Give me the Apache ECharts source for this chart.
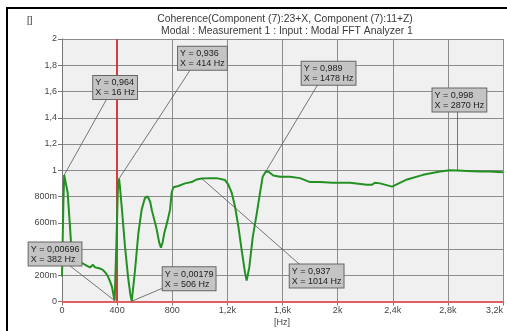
<!DOCTYPE html>
<html><head><meta charset="utf-8">
<script src="https://cdn.jsdelivr.net/npm/echarts@6/dist/echarts.min.js"></script>
<style>html,body{margin:0;padding:0;background:#fff}#c{width:507px;height:331px}</style>
</head><body><div id="c"></div>
<script>
// ---- data ----
const freqHz = [0,4,10,16,22,41,58,70,80,100,131,150,167,185,203,215,225,240,261,280,297,315,334,350,363,377,382,
  395,405,414,420,435,457,479,495,506,518,530,554,578,602,622,640,651,670,687,705,718,730,742,767,784,796,808,844,893,941,978,1014,
  1074,1123,1183,1207,1231,1256,1280,1304,1328,1340,1359,1384,1413,1437,1456,1478,1497,1533,1582,1655,1727,1800,1872,1966,2090,
  2213,2250,2271,2308,2395,2504,2620,2743,2816,2870,2939,3033,3100,3200];
const coherence = [0.19,0.19,0.75,0.964,0.95,0.83,0.57,0.37,0.32,0.31,0.30,0.29,0.28,0.27,0.26,0.27,0.28,0.26,0.255,0.25,0.24,0.22,0.19,0.15,0.11,0.03,0.007,
  0.45,0.85,0.936,0.88,0.70,0.42,0.19,0.06,0.0018,0.12,0.24,0.52,0.70,0.79,0.80,0.76,0.70,0.62,0.55,0.45,0.41,0.45,0.52,0.62,0.70,0.83,0.87,0.88,0.90,0.91,0.93,0.937,
  0.94,0.94,0.925,0.89,0.83,0.72,0.57,0.39,0.22,0.16,0.26,0.49,0.67,0.83,0.95,0.989,0.99,0.96,0.95,0.95,0.94,0.91,0.91,0.905,0.905,
  0.89,0.89,0.905,0.90,0.875,0.93,0.965,0.99,1.0,0.998,0.995,0.99,0.99,0.985];
const xTickValues = [0,400,800,1200,1600,2000,2400,2800,3200];
const xTickLabels = ['0','400','800','1,2k','1,6k','2k','2,4k','2,8k','3,2k'];
const yTickLabels = ['0','200m','400m','600m','800m','1','1,2','1,4','1,6','1,8','2'];
const cursorX = 398;
const annotX = [16,414,1478,2870,382,506,1014];
const annotY = [0.964,0.936,0.989,0.998,0.00696,0.00179,0.937];
const annotYText = ['0,964','0,936','0,989','0,998','0,00696','0,00179','0,937'];
const annotXText = ['16 Hz','414 Hz','1478 Hz','2870 Hz','382 Hz','506 Hz','1014 Hz'];

// ---- layout (pixel offsets of callouts relative to their points) ----
const boxOffsets = [[29,-99],[59,-132],[36,-110],[-25,-82],[-86,-58],[31,-34],[88,86]];
const leaderOffsets = [[42,-75],[74,-113],[52,-87],[0,-59],[-45,-35],[33,-14],[98,86]];

const chart = echarts.init(document.getElementById('c'), null, {renderer:'canvas'});
const font = 'Liberation Sans, Arial, sans-serif';
const option = {
  animation:false,
  backgroundColor:'#ffffff',
  title:[
    {text:'Coherence(Component (7):23+X, Component (7):11+Z)', left:285, top:14, padding:0, textAlign:'center',
     textStyle:{fontSize:10.4, fontWeight:'normal', color:'#3a3a3a', fontFamily:font}},
    {text:'Modal : Measurement 1 : Input : Modal FFT Analyzer 1', left:287, top:26.5, padding:0, textAlign:'center',
     textStyle:{fontSize:10.4, fontWeight:'normal', color:'#3a3a3a', fontFamily:font}},
    {text:'[]', left:27, top:15, padding:0, textStyle:{fontSize:9.5, fontWeight:'normal', color:'#333', fontFamily:font}},
    {text:'[Hz]', left:282, top:318, padding:0, textAlign:'center', textStyle:{fontSize:9, fontWeight:'normal', color:'#444', fontFamily:font}}
  ],
  grid:{left:62, right:4, top:39, bottom:29.5, show:true, backgroundColor:'#f0f0f0', borderWidth:0},
  xAxis:{type:'value', min:0, max:3200, interval:400,
    axisLine:{show:true, lineStyle:{color:'#777', width:1}},
    axisTick:{show:true, length:4, lineStyle:{color:'#777'}},
    axisLabel:{color:'#444', fontSize:9, fontFamily:font, margin:5, alignMaxLabel:'right',
      formatter:v=>{const i=xTickValues.indexOf(v); return i>=0?xTickLabels[i]:'';}},
    splitLine:{show:true, lineStyle:{color:'#8c8c8c', width:1}}},
  yAxis:{type:'value', min:0, max:2, interval:0.2,
    axisLine:{show:true, lineStyle:{color:'#777', width:1}},
    axisTick:{show:true, length:4, lineStyle:{color:'#777'}},
    axisLabel:{color:'#444', fontSize:9, fontFamily:font, margin:5,
      formatter:v=>yTickLabels[Math.round(v/0.2)]},
    splitLine:{show:true, lineStyle:{color:'#8c8c8c', width:1}}},
  series:[{
    type:'line', data:freqHz.map((f,i)=>[f,coherence[i]]), showSymbol:false, symbol:'none',
    lineStyle:{color:'#229122', width:2}, z:5,
    markLine:{silent:true, symbol:'none', label:{show:false}, animation:false,
      data:[{xAxis:cursorX, lineStyle:{color:'#cf3f3f', width:2, type:'solid'}},
            {yAxis:0, lineStyle:{color:'#e06060', width:2, type:'solid'}}]}
  }],
  graphic:[
    {type:'rect', shape:{x:6,y:7,width:501,height:2}, style:{fill:'#000'}, z:100},
    {type:'rect', shape:{x:6,y:7,width:2,height:324}, style:{fill:'#000'}, z:100}
  ]
};
chart.setOption(option);

const g = [];
annotX.forEach((x,i)=>{
  const p = chart.convertToPixel({xAxisIndex:0,yAxisIndex:0},[x,annotY[i]]);
  g.push({type:'line', shape:{x1:p[0]+leaderOffsets[i][0], y1:p[1]+leaderOffsets[i][1], x2:p[0], y2:p[1]},
    style:{stroke:'#555', lineWidth:0.8}, z:50, silent:true});
  g.push({type:'text', x:p[0]+boxOffsets[i][0], y:p[1]+boxOffsets[i][1], z:60, silent:true,
    style:{text:'Y = '+annotYText[i]+'\nX = '+annotXText[i], font:'9px '+font, fill:'#222',
      backgroundColor:'#c4c4c4', borderColor:'#666', borderWidth:1, padding:[2,2,1,2], lineHeight:10}});
});
chart.setOption({graphic:option.graphic.concat(g)});
</script></body></html>
